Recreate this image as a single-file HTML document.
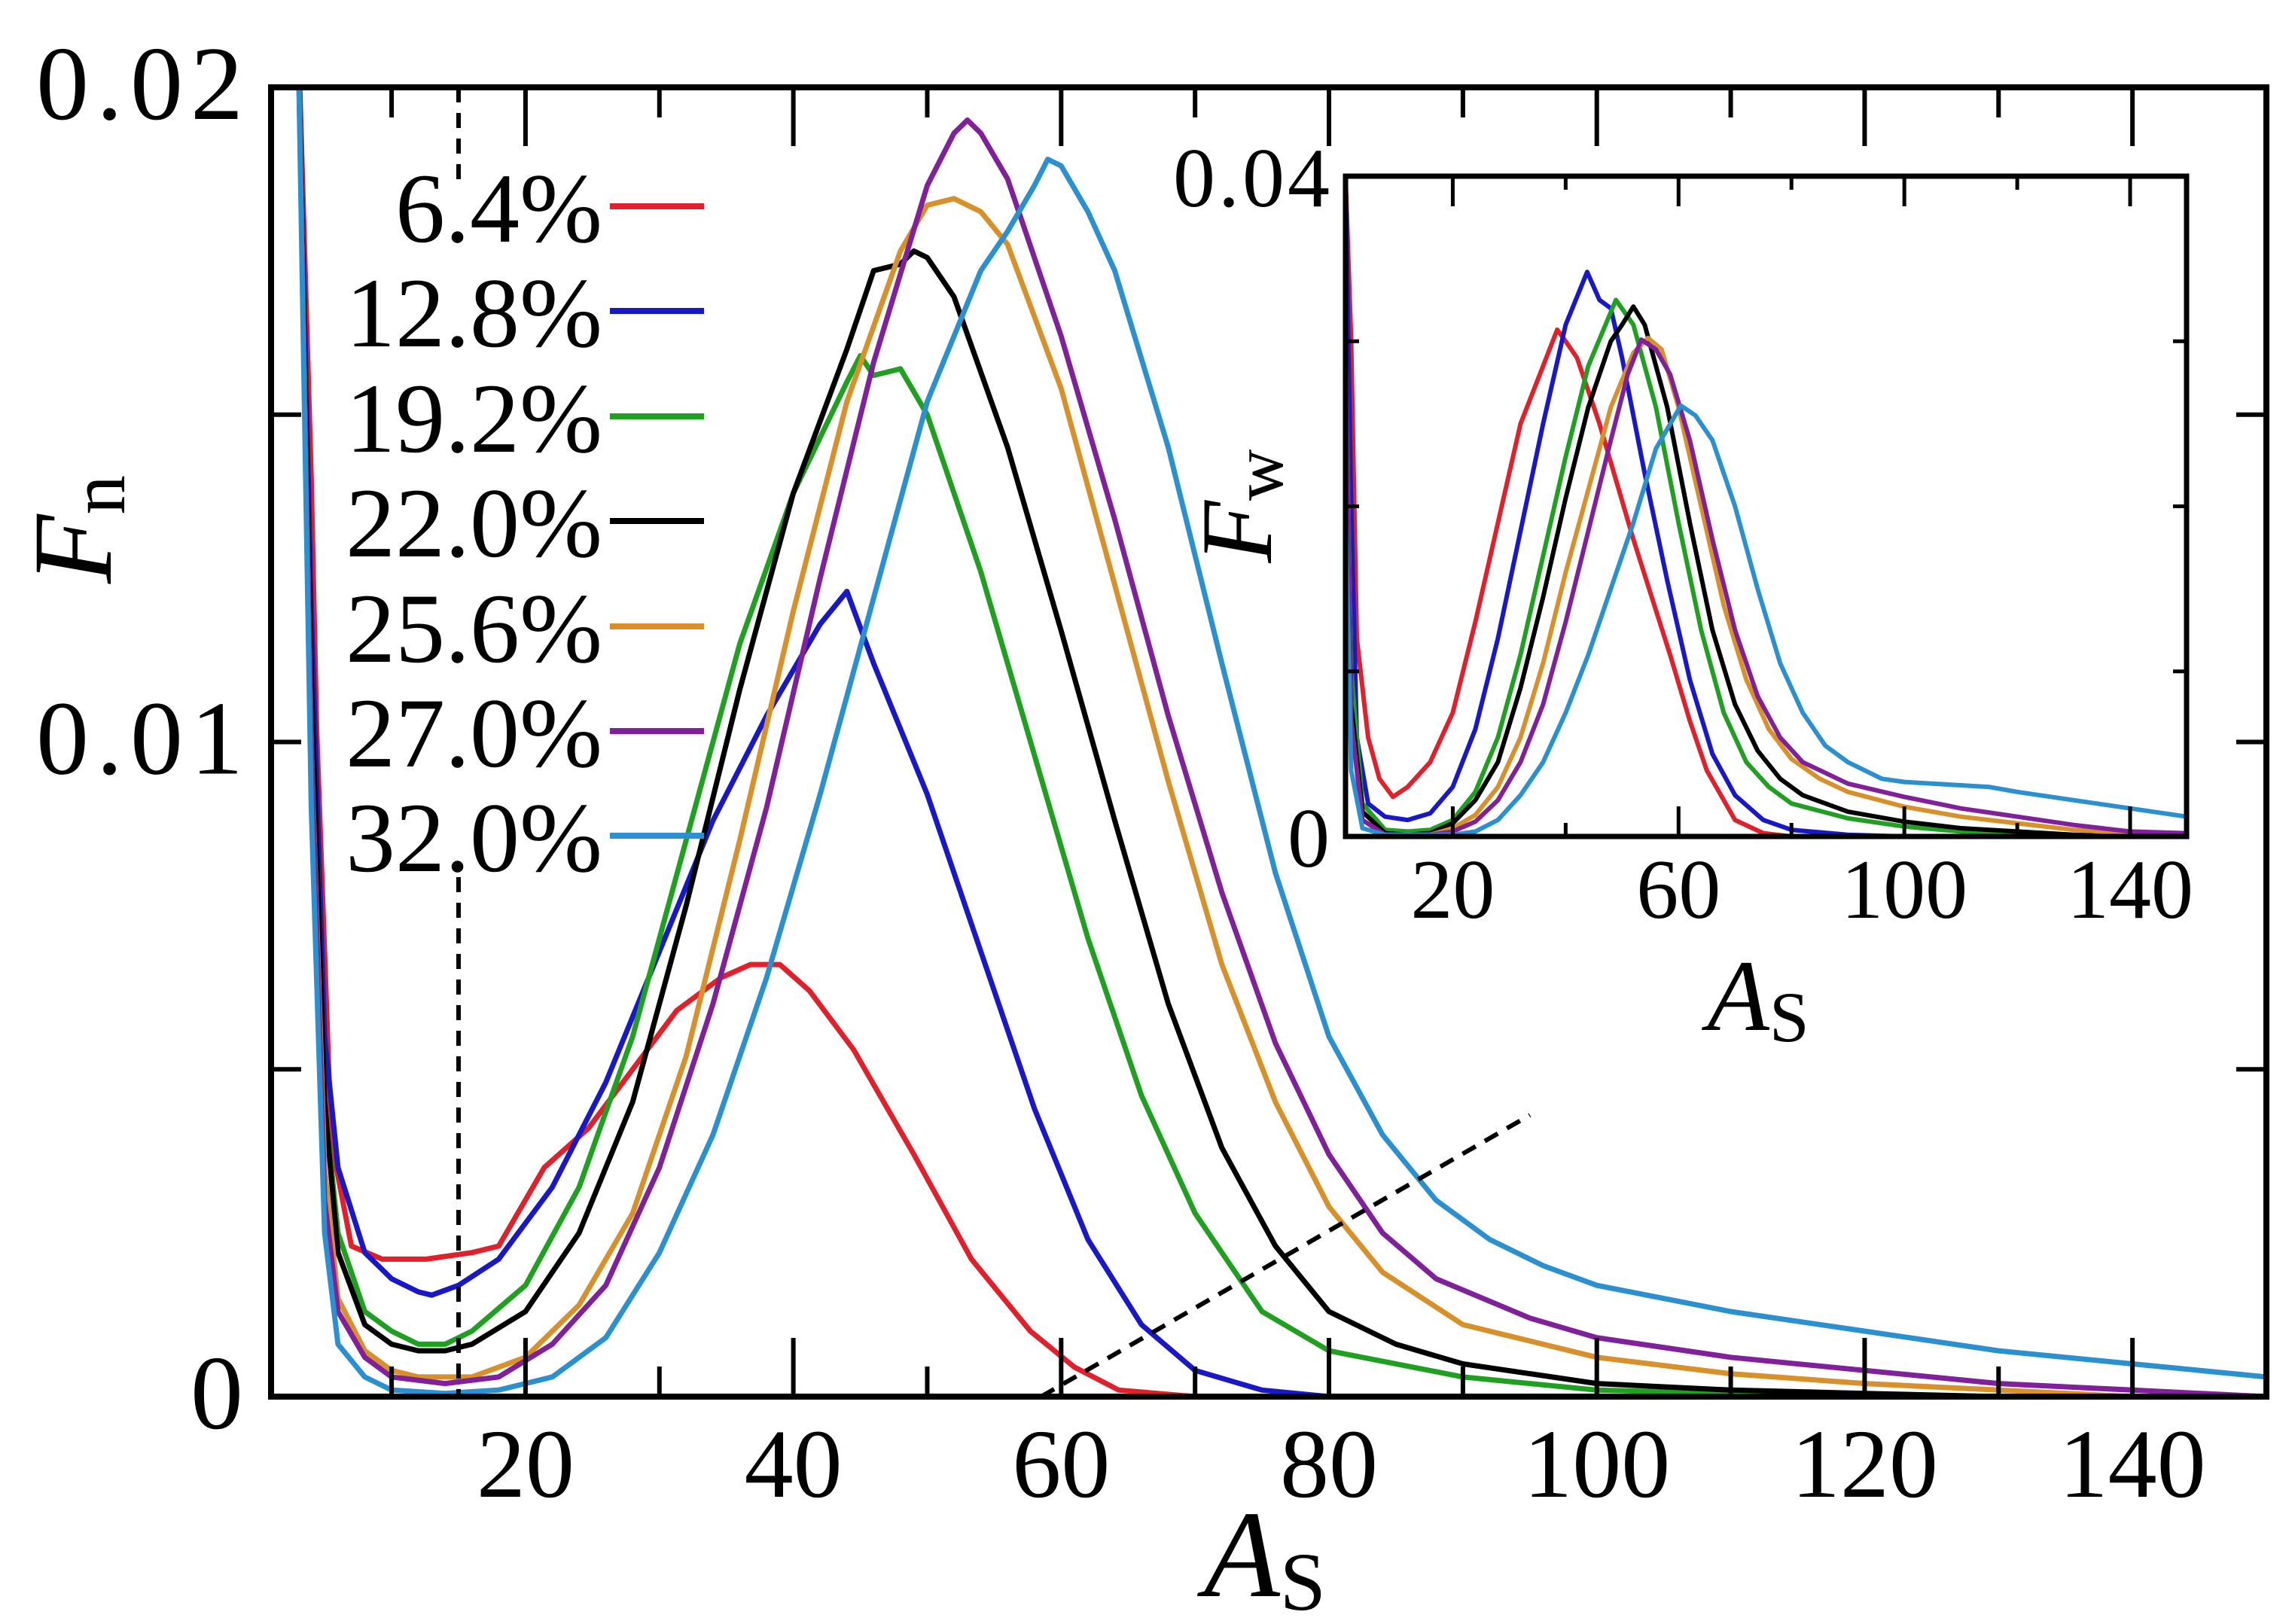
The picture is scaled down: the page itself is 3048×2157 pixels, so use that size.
<!DOCTYPE html>
<html><head><meta charset="utf-8"><style>
html,body{margin:0;padding:0;background:#fff}
svg{display:block}
text{font-family:"Liberation Serif","DejaVu Serif",serif;fill:#000}
</style></head><body>
<svg id="chart" width="3048" height="2157" viewBox="0 0 3048 2157" xmlns="http://www.w3.org/2000/svg">
<defs>
<clipPath id="mainClip"><rect x="360" y="116" width="2650" height="1739"/></clipPath>
<clipPath id="insetClip"><rect x="1787" y="234" width="1117" height="877"/></clipPath>
</defs>
<g id="main"></g>
<g id="inset"></g>
</svg>
<script>
const seriesLabels = ["6.4%","12.8%","19.2%","22.0%","25.6%","27.0%","32.0%"];
const seriesColors = ["#e0202a","#1818c8","#20a020","#000000","#d8902a","#80209a","#2a90d0"];

const mainX0 = [3,4,4.4,5.5,7,9.3,12.6,16,18,21.4,24.7,28,31.3,34.6,36.8,39,41.2,44.5,49,53.3,57.7,61,64.3,70];
const mainY0 = [.021,.014,.0102,.0039,.0023,.0021,.0021,.0022,.0023,.0035,.0041,.005,.0059,.0064,.0066,.0066,.0062,.0053,.0037,.0021,.001,.00045,.0001,0];
const mainX1 = [3,4,5,6,8,10,12,13,15,18,22,26,30,34,38,42,44,46,50,54,58,62,66,70,75,80];
const mainY1 = [.021,.012,.0055,.0035,.0022,.0018,.0016,.00155,.0017,.0021,.0032,.0048,.0068,.0088,.0104,.0118,.0123,.0112,.0092,.0068,.0044,.0024,.0011,.0004,.0001,0];
const mainX2 = [3,4,5,6,8,10,12,14,16,20,24,28,32,36,40,44,45,46,48,50,54,58,62,66,70,75,80,90,100,110,120];
const mainY2 = [.021,.011,.0045,.0025,.0013,.001,.0008,.0008,.001,.0017,.0032,.0055,.0085,.0115,.0138,.0155,.0159,.0156,.0157,.015,.0126,.0098,.007,.0046,.0028,.0013,.0007,.0003,.0001,.00005,0];
const mainX3 = [3,4,5,6,8,10,12,14,16,20,24,28,32,36,40,44,46,48,49,50,52,56,60,64,68,72,76,80,85,90,100,110,120,130];
const mainY3 = [.021,.011,.0045,.0022,.0011,.0008,.0007,.0007,.0008,.0013,.0025,.0045,.0075,.0108,.0138,.016,.0172,.0173,.0175,.0174,.0168,.0145,.0117,.0088,.006,.0038,.0023,.0013,.0008,.0005,.0002,.0001,.00005,0];
const mainX4 = [3,4,5,6,8,10,12,16,20,24,28,32,36,40,44,48,50,52,54,56,60,64,68,72,76,80,84,90,100,110,120,130,140];
const mainY4 = [.021,.01,.0035,.0015,.0007,.0004,.0003,.0003,.0006,.0014,.0028,.0052,.0085,.012,.0152,.0175,.0182,.0183,.0181,.0176,.0154,.0124,.0094,.0066,.0045,.0029,.0019,.0011,.0006,.00035,.0002,.0001,0];
const mainX5 = [3,4,5,6,8,10,14,18,22,26,30,34,38,42,46,50,52,53,54,56,60,64,68,72,76,80,84,88,95,100,110,120,130,140,150];
const mainY5 = [.021,.01,.003,.0013,.0006,.0003,.0002,.0003,.0008,.0017,.0035,.006,.009,.0125,.0158,.0185,.0193,.0195,.0193,.0186,.0162,.0134,.0104,.0077,.0054,.0037,.0025,.0018,.0012,.0009,.0006,.0004,.0002,.0001,0];
const mainX6 = [3,4,5,6,8,10,14,18,22,26,30,34,38,42,46,50,54,56,58,59,60,62,64,68,72,76,80,84,88,92,96,100,110,120,130,140,150];
const mainY6 = [.021,.009,.0025,.0008,.0003,.0001,.00005,.0001,.0003,.0009,.0022,.004,.0064,.0092,.0122,.0152,.0172,.0178,.0185,.0189,.0188,.0181,.0172,.0145,.0112,.008,.0055,.004,.003,.0024,.002,.0017,.0013,.001,.0007,.0005,.0003];

const insX0 = [1,2,3,5,7,9.4,12,16,20,24,28,32,36,38.5,40,42,46,52,58.5,62,65,70,75,80];
const insY0 = [.04,.03,.012,.006,.0035,.0024,.003,.0045,.0075,.013,.019,.025,.0285,.0307,.03,.029,.025,.018,.011,.007,.004,.001,.0002,0];
const insX1 = [1,2,3,5,8,12,16,20,24,28,32,36,40,43.8,46,48,50,54,58,62,66,70,75,80,90,100];
const insY1 = [.04,.02,.006,.002,.0012,.001,.0014,.003,.0065,.012,.0185,.025,.031,.0342,.0325,.032,.029,.022,.0155,.0095,.005,.0025,.001,.0004,.0001,0];
const insX2 = [1,2,4,8,12,16,20,24,28,32,36,40,44,48.9,52,56,60,64,68,72,76,80,90,100,110,120,130];
const insY2 = [.03,.01,.002,.0004,.0003,.0004,.001,.0027,.006,.011,.017,.023,.0285,.0325,.031,.026,.019,.0125,.0075,.0045,.003,.002,.0011,.0006,.0003,.0001,0];
const insX3 = [1,2,4,8,12,16,20,24,28,32,36,40,44,48,50,52,54,58,62,66,70,74,78,82,90,100,110,120,130,140];
const insY3 = [.03,.008,.0015,.0002,.0001,.0002,.0008,.0022,.0045,.009,.0145,.0205,.026,.03,.031,.0321,.031,.026,.019,.0125,.008,.0052,.0035,.0025,.0015,.0009,.0005,.0003,.0001,0];
const insX4 = [1,2,4,8,16,20,24,28,32,36,40,44,48,52,54.6,57,60,64,68,72,76,80,85,90,100,110,120,130,140,150];
const insY4 = [.03,.007,.001,.0001,.0001,.0005,.0013,.003,.006,.0105,.016,.021,.026,.0293,.0302,.0295,.026,.02,.014,.0095,.0065,.0047,.0035,.0027,.0018,.0012,.0008,.0004,.0002,.0001];
const insX5 = [1,2,4,8,16,20,24,28,32,36,40,44,48,51,53.4,56,58.5,62,66,70,74,78,82,90,100,110,120,130,140,150];
const insY5 = [.03,.007,.001,.0001,.0001,.0003,.0009,.0022,.0045,.008,.013,.0185,.024,.028,.0301,.0295,.028,.024,.018,.0125,.0085,.006,.0045,.0032,.0024,.0017,.0012,.0007,.0003,.0002];
const insX6 = [1,2,4,8,20,24,28,32,36,40,44,48,52,56,60.4,63,66,70,74,78,82,86,90,96,100,110,115,120,130,140,150];
const insY6 = [.02,.004,.0005,.0001,.0001,.0003,.001,.0025,.0045,.0075,.011,.015,.019,.0235,.0261,.0255,.024,.02,.015,.0105,.0075,.0055,.0045,.0035,.0033,.0031,.003,.0027,.0022,.0017,.0012];

const mainXTicks = [20,40,60,80,100,120,140];
const mainXMinor = [10,30,50,70,90,110,130,150];
const mainYTicks = [0,0.01,0.02];
const mainYTickLabels = ["0","0.01","0.02"];
const mainYMinor = [0.005,0.015];
const insXTicks = [20,60,100,140];
const insXMinor = [40,80,120];
const insYTicks = [0,0.04];
const insYTickLabels = ["0","0.04"];
const insYMinor = [0.01,0.02,0.03];
const dashV = [15];
const dashDiagX = [58.5,95];
const dashDiagY = [0,0.0043];

const mainXs=[mainX0,mainX1,mainX2,mainX3,mainX4,mainX5,mainX6];
const mainYs=[mainY0,mainY1,mainY2,mainY3,mainY4,mainY5,mainY6];
const insXs=[insX0,insX1,insX2,insX3,insX4,insX5,insX6];
const insYs=[insY0,insY1,insY2,insY3,insY4,insY5,insY6];

const NS="http://www.w3.org/2000/svg";
function mk(tag,attrs,parent){const e=document.createElementNS(NS,tag);for(const k in attrs)e.setAttribute(k,attrs[k]);parent.appendChild(e);return e;}

const mL=360,mR=3010,mT=116,mB=1855;
const mx=v=>mL+(v-1)/(150-1)*(mR-mL);
const my=v=>mB-v/0.02*(mB-mT);
const iL=1787,iR=2904,iT=234,iB=1111;
const ix=v=>iL+(v-1)/(150-1)*(iR-iL);
const iy=v=>iB-v/0.04*(iB-iT);

const gM=document.getElementById('main');
const gI=document.getElementById('inset');

const gMC=mk('g',{'clip-path':'url(#mainClip)'},gM);


for(let s=0;s<7;s++){
  const pts=mainXs[s].map((x,i)=>mx(x).toFixed(1)+','+my(mainYs[s][i]).toFixed(1)).join(' ');
  const p=mk('polyline',{points:pts,fill:'none',stroke:seriesColors[s],'stroke-width':7,'stroke-linejoin':'round'},gMC);
  
  
}
dashV.forEach(v=>{
  const a=mk('line',{x1:mx(v),x2:mx(v),y1:mT,y2:250,stroke:'#000','stroke-width':6,'stroke-dasharray':'20 14'},gM);
  
  
  const b=mk('line',{x1:mx(v),x2:mx(v),y1:1165,y2:mB,stroke:'#000','stroke-width':6,'stroke-dasharray':'20 14'},gM);
  
  
});
const dg=mk('line',{x1:mx(dashDiagX[0]),y1:my(dashDiagY[0]),x2:mx(dashDiagX[1]),y2:my(dashDiagY[1]),stroke:'#000','stroke-width':6,'stroke-dasharray':'20 14'},gM);



const fr=mk('rect',{x:mL,y:mT,width:mR-mL,height:mB-mT,fill:'none',stroke:'#000','stroke-width':8},gM);


mainXTicks.forEach(v=>{
  mk('line',{x1:mx(v),x2:mx(v),y1:mB,y2:mB-78,stroke:'#000','stroke-width':6},gM);
  mk('line',{x1:mx(v),x2:mx(v),y1:mT,y2:mT+78,stroke:'#000','stroke-width':6},gM);
  const t=mk('text',{x:mx(v),y:1988,'text-anchor':'middle','font-size':130},gM);
  t.textContent=v;
  
  
});
mainXMinor.forEach(v=>{
  mk('line',{x1:mx(v),x2:mx(v),y1:mB,y2:mB-40,stroke:'#000','stroke-width':6},gM);
  mk('line',{x1:mx(v),x2:mx(v),y1:mT,y2:mT+40,stroke:'#000','stroke-width':6},gM);
});
mainYTicks.forEach((v,i)=>{
  mk('line',{x1:mL,x2:mL+40,y1:my(v),y2:my(v),stroke:'#000','stroke-width':6},gM);
  mk('line',{x1:mR,x2:mR-40,y1:my(v),y2:my(v),stroke:'#000','stroke-width':6},gM);
  const t=mk('text',{x:333,y:my(v)+42,'text-anchor':'end','font-size':140,'letter-spacing':10},gM);
  t.textContent=mainYTickLabels[i];
  
  
});
mainYMinor.forEach(v=>{
  mk('line',{x1:mL,x2:mL+40,y1:my(v),y2:my(v),stroke:'#000','stroke-width':6},gM);
  mk('line',{x1:mR,x2:mR-40,y1:my(v),y2:my(v),stroke:'#000','stroke-width':6},gM);
});
const xt=mk('text',{x:1680,y:2120,'text-anchor':'middle','font-size':165},gM);
xt.innerHTML='<tspan font-style="italic">A</tspan><tspan font-size="110" dy="18">S</tspan>';


const yt=mk('text',{x:0,y:0,'text-anchor':'middle','font-size':150,transform:'translate(147,703) rotate(-90)'},gM);
yt.innerHTML='<tspan font-style="italic">F</tspan><tspan font-size="105" dy="18">n</tspan>';



const legY=[274,413,553,692,832,971,1110];
seriesLabels.forEach((lab,i)=>{
  const g=mk('g',{},gM);
  
  
  const t=mk('text',{x:800,y:legY[i]+47,'text-anchor':'end','font-size':132},g);
  t.textContent=lab;
  mk('line',{x1:810,x2:935,y1:legY[i],y2:legY[i],stroke:seriesColors[i],'stroke-width':8},g);
});

const ibg=mk('rect',{x:iL,y:iT,width:iR-iL,height:iB-iT,fill:'#fff'},gI);


const gIC=mk('g',{'clip-path':'url(#insetClip)'},gI);


for(let s=0;s<7;s++){
  const pts=insXs[s].map((x,i)=>ix(x).toFixed(1)+','+iy(insYs[s][i]).toFixed(1)).join(' ');
  const p=mk('polyline',{points:pts,fill:'none',stroke:seriesColors[s],'stroke-width':6,'stroke-linejoin':'round'},gIC);
  
  
}
const ifr=mk('rect',{x:iL,y:iT,width:iR-iL,height:iB-iT,fill:'none',stroke:'#000','stroke-width':7},gI);


insXTicks.forEach(v=>{
  mk('line',{x1:ix(v),x2:ix(v),y1:iB,y2:iB-40,stroke:'#000','stroke-width':5},gI);
  mk('line',{x1:ix(v),x2:ix(v),y1:iT,y2:iT+40,stroke:'#000','stroke-width':5},gI);
  const t=mk('text',{x:ix(v),y:1219,'text-anchor':'middle','font-size':112},gI);
  t.textContent=v;
  
  
});
insXMinor.forEach(v=>{
  mk('line',{x1:ix(v),x2:ix(v),y1:iB,y2:iB-18,stroke:'#000','stroke-width':5},gI);
  mk('line',{x1:ix(v),x2:ix(v),y1:iT,y2:iT+18,stroke:'#000','stroke-width':5},gI);
});
insYTicks.forEach((v,i)=>{
  const t=mk('text',{x:1770,y:iy(v)+40,'text-anchor':'end','font-size':112,'letter-spacing':4},gI);
  t.textContent=insYTickLabels[i];
  
  
});
insYMinor.forEach(v=>{
  mk('line',{x1:iL,x2:iL+18,y1:iy(v),y2:iy(v),stroke:'#000','stroke-width':5},gI);
  mk('line',{x1:iR,x2:iR-18,y1:iy(v),y2:iy(v),stroke:'#000','stroke-width':5},gI);
});
const ixt=mk('text',{x:2335,y:1368,'text-anchor':'middle','font-size':135},gI);
ixt.innerHTML='<tspan font-style="italic">A</tspan><tspan font-size="95" dy="15">S</tspan>';


const iyt=mk('text',{x:0,y:0,'text-anchor':'middle','font-size':135,transform:'translate(1688,672) rotate(-90)'},gI);
iyt.innerHTML='<tspan font-style="italic">F</tspan><tspan font-size="95" dy="15">w</tspan>';


</script>
</body></html>
